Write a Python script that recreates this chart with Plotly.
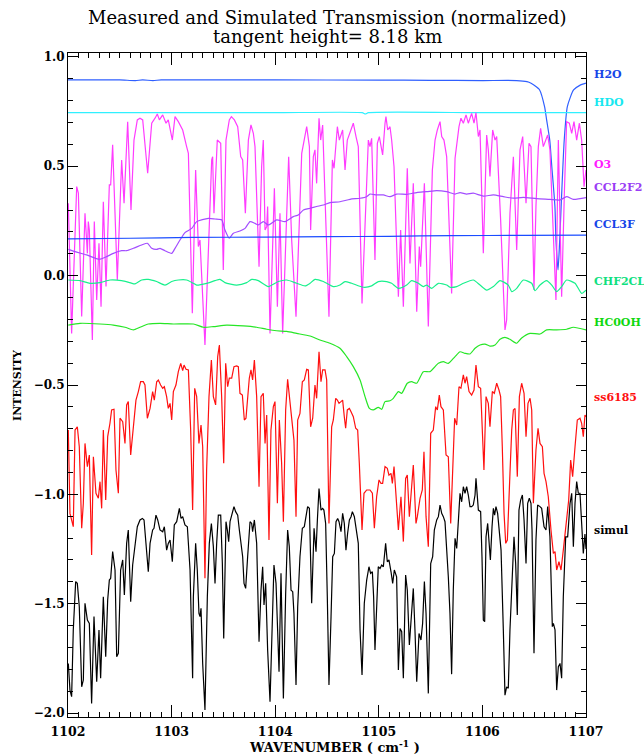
import plotly.graph_objects as go

# ---------------- data (wavenumber cm-1, normalized intensity) ----------------
h2o = [(1102.00, 0.895), (1102.50, 0.895), (1102.65, 0.892), (1102.72, 0.895), (1102.82, 0.892),
       (1102.90, 0.895), (1103.50, 0.895), (1104.00, 0.895), (1105.00, 0.894), (1105.50, 0.893),
       (1106.00, 0.892), (1106.33, 0.892), (1106.43, 0.887), (1106.47, 0.880), (1106.52, 0.864),
       (1106.55, 0.851), (1106.60, 0.773), (1106.62, 0.712), (1106.65, 0.620), (1106.67, 0.498),
       (1106.70, 0.316), (1106.71, 0.163), (1106.73, 0.026), (1106.745, 0.150), (1106.76, 0.316),
       (1106.79, 0.620), (1106.82, 0.773), (1106.88, 0.849), (1106.94, 0.870), (1107.00, 0.880)]

hdo = [(1102.00, 0.745), (1103.00, 0.745), (1104.00, 0.745), (1104.84, 0.745), (1104.87, 0.739),
       (1104.90, 0.745), (1106.00, 0.745), (1107.00, 0.745)]

o3 = [(1102.003, 0.331), (1102.035, -0.264), (1102.084, 0.407), (1102.100, 0.377), (1102.132, -0.187),
      (1102.164, 0.285), (1102.187, 0.102), (1102.196, 0.247), (1102.206, 0.209), (1102.235, -0.294),
      (1102.254, 0.247), (1102.277, -0.111), (1102.299, 0.148), (1102.319, -0.142), (1102.341, 0.338),
      (1102.367, -0.050), (1102.399, 0.415), (1102.412, 0.415), (1102.431, 0.598), (1102.476, -0.020),
      (1102.518, 0.529), (1102.541, 0.331), (1102.576, 0.704), (1102.608, 0.300), (1102.637, 0.620),
      (1102.669, 0.712), (1102.695, 0.720), (1102.721, 0.712), (1102.769, 0.468), (1102.808, 0.697),
      (1102.840, 0.720), (1102.862, 0.739), (1102.882, 0.712), (1102.914, 0.735), (1102.946, 0.697),
      (1102.968, 0.712), (1103.007, 0.620), (1103.033, 0.727), (1103.065, 0.704), (1103.107, 0.666),
      (1103.145, 0.590), (1103.162, 0.559), (1103.200, -0.172), (1103.232, 0.483), (1103.258, 0.133),
      (1103.274, 0.163), (1103.322, -0.317), (1103.387, 0.529), (1103.396, 0.544), (1103.409, 0.285),
      (1103.441, 0.620), (1103.474, 0.605), (1103.499, 0.026), (1103.525, 0.620), (1103.557, 0.712),
      (1103.577, 0.727), (1103.606, 0.712), (1103.638, 0.681), (1103.667, 0.544), (1103.686, 0.529),
      (1103.712, 0.285), (1103.741, 0.620), (1103.766, 0.689), (1103.789, 0.651), (1103.805, 0.590),
      (1103.844, 0.041), (1103.869, 0.498), (1103.885, 0.620), (1103.902, 0.209), (1103.918, 0.224),
      (1103.927, 0.316), (1103.950, -0.264), (1103.992, 0.399), (1104.021, -0.142), (1104.046, 0.285),
      (1104.072, -0.264), (1104.130, 0.544), (1104.159, 0.163), (1104.201, -0.188), (1104.256, 0.559),
      (1104.304, 0.681), (1104.330, 0.590), (1104.342, 0.209), (1104.368, 0.544), (1104.384, 0.575),
      (1104.400, 0.422), (1104.423, 0.720), (1104.439, 0.620), (1104.458, 0.689), (1104.468, 0.559),
      (1104.519, -0.188), (1104.552, 0.529), (1104.568, 0.491), (1104.600, 0.681), (1104.619, 0.620),
      (1104.651, 0.666), (1104.674, 0.483), (1104.696, 0.620), (1104.738, 0.681), (1104.754, 0.697),
      (1104.780, 0.636), (1104.802, 0.590), (1104.838, -0.127), (1104.899, 0.620), (1104.915, 0.590),
      (1104.931, 0.628), (1104.963, 0.072), (1104.986, 0.605), (1105.005, 0.636), (1105.037, 0.552),
      (1105.060, 0.697), (1105.069, 0.727), (1105.086, 0.666), (1105.108, 0.681), (1105.124, 0.620),
      (1105.147, 0.498), (1105.189, -0.096), (1105.211, 0.209), (1105.237, -0.142), (1105.275, 0.491),
      (1105.301, 0.056), (1105.333, 0.422), (1105.366, -0.165), (1105.391, 0.133), (1105.404, 0.041),
      (1105.440, 0.422), (1105.478, -0.233), (1105.517, 0.483), (1105.543, 0.620), (1105.565, 0.666),
      (1105.591, 0.704), (1105.607, 0.636), (1105.629, 0.620), (1105.655, 0.544), (1105.703, -0.081),
      (1105.736, 0.537), (1105.774, 0.681), (1105.793, 0.720), (1105.816, 0.697), (1105.842, 0.735),
      (1105.864, 0.697), (1105.896, 0.742), (1105.919, 0.697), (1105.938, 0.745), (1105.961, 0.636),
      (1105.977, 0.666), (1106.009, 0.102), (1106.041, 0.643), (1106.057, 0.575), (1106.073, 0.453),
      (1106.099, 0.666), (1106.122, 0.620), (1106.138, 0.636), (1106.176, 0.255), (1106.218, -0.248),
      (1106.234, -0.203), (1106.266, 0.285), (1106.299, 0.544), (1106.331, 0.117), (1106.363, 0.575),
      (1106.389, 0.636), (1106.421, 0.331), (1106.450, 0.605), (1106.469, 0.590), (1106.498, -0.066),
      (1106.517, 0.316), (1106.540, 0.590), (1106.562, 0.674), (1106.588, 0.590), (1106.630, 0.643),
      (1106.652, 0.575), (1106.710, -0.111), (1106.733, 0.620), (1106.765, -0.096), (1106.791, 0.377),
      (1106.813, 0.704), (1106.839, 0.697), (1106.862, 0.651), (1106.884, 0.704), (1106.910, 0.620),
      (1106.936, 0.697), (1106.958, 0.620), (1106.981, 0.407), (1107.000, 0.483)]

ccl2f2 = [(1102.003, 0.120), (1102.068, 0.110), (1102.180, 0.095), (1102.302, 0.075), (1102.373, 0.087),
          (1102.438, 0.102), (1102.518, 0.114), (1102.566, 0.114), (1102.631, 0.125), (1102.711, 0.140),
          (1102.766, 0.148), (1102.808, 0.125), (1102.856, 0.120), (1102.888, 0.125), (1102.936, 0.114),
          (1103.001, 0.102), (1103.033, 0.125), (1103.081, 0.163), (1103.129, 0.197), (1103.194, 0.216),
          (1103.242, 0.247), (1103.355, 0.262), (1103.419, 0.259), (1103.483, 0.255), (1103.515, 0.209),
          (1103.557, 0.171), (1103.596, 0.194), (1103.660, 0.204), (1103.709, 0.216), (1103.757, 0.247),
          (1103.805, 0.239), (1103.837, 0.232), (1103.885, 0.247), (1103.934, 0.232), (1104.014, 0.255),
          (1104.095, 0.247), (1104.175, 0.270), (1104.223, 0.277), (1104.272, 0.300), (1104.336, 0.308),
          (1104.400, 0.316), (1104.465, 0.323), (1104.529, 0.334), (1104.625, 0.338), (1104.722, 0.349),
          (1104.819, 0.354), (1104.883, 0.361), (1104.915, 0.373), (1104.979, 0.369), (1105.044, 0.369),
          (1105.108, 0.361), (1105.172, 0.373), (1105.269, 0.372), (1105.366, 0.380), (1105.462, 0.384),
          (1105.559, 0.389), (1105.655, 0.384), (1105.736, 0.373), (1105.784, 0.380), (1105.848, 0.373),
          (1105.912, 0.377), (1106.009, 0.364), (1106.106, 0.369), (1106.202, 0.361), (1106.299, 0.354),
          (1106.395, 0.358), (1106.524, 0.352), (1106.652, 0.349), (1106.749, 0.346), (1106.813, 0.361),
          (1106.878, 0.349), (1107.000, 0.357)]

ccl3f = [(1102.00, 0.168), (1102.60, 0.171), (1103.20, 0.175), (1103.90, 0.176), (1104.50, 0.178),
         (1105.10, 0.180), (1105.70, 0.183), (1106.40, 0.184), (1107.00, 0.185)]

chf2cl = [(1102.003, -0.020), (1102.116, -0.023), (1102.212, -0.035), (1102.309, -0.032), (1102.405, -0.020),
          (1102.518, -0.023), (1102.598, -0.032), (1102.647, -0.038), (1102.711, -0.020), (1102.775, -0.017),
          (1102.856, -0.027), (1102.936, -0.043), (1103.001, -0.027), (1103.065, -0.020), (1103.145, -0.020),
          (1103.210, -0.035), (1103.242, -0.043), (1103.338, -0.035), (1103.419, -0.023), (1103.467, -0.017),
          (1103.515, -0.032), (1103.628, -0.043), (1103.725, -0.032), (1103.773, -0.017), (1103.837, -0.023),
          (1103.934, -0.050), (1104.030, -0.027), (1104.111, -0.020), (1104.207, -0.035), (1104.288, -0.047),
          (1104.336, -0.035), (1104.384, -0.017), (1104.465, -0.027), (1104.497, -0.035), (1104.561, -0.050),
          (1104.625, -0.043), (1104.674, -0.027), (1104.738, -0.035), (1104.851, -0.053), (1104.931, -0.047),
          (1104.995, -0.027), (1105.076, -0.027), (1105.124, -0.035), (1105.189, -0.058), (1105.269, -0.043),
          (1105.317, -0.023), (1105.382, -0.035), (1105.430, -0.050), (1105.462, -0.043), (1105.510, -0.058),
          (1105.575, -0.035), (1105.655, -0.043), (1105.687, -0.053), (1105.752, -0.050), (1105.816, -0.035),
          (1105.912, -0.020), (1105.977, -0.043), (1106.041, -0.066), (1106.106, -0.050), (1106.170, -0.023),
          (1106.250, -0.043), (1106.283, -0.073), (1106.331, -0.058), (1106.395, -0.020), (1106.476, -0.035),
          (1106.508, -0.069), (1106.556, -0.043), (1106.620, -0.023), (1106.669, -0.043), (1106.717, -0.073),
          (1106.765, -0.050), (1106.813, -0.020), (1106.894, -0.035), (1106.958, -0.081), (1107.000, -0.066)]

hcooh = [(1102.003, -0.226), (1102.116, -0.218), (1102.309, -0.221), (1102.438, -0.226), (1102.550, -0.236),
         (1102.631, -0.248), (1102.695, -0.236), (1102.775, -0.221), (1102.888, -0.218), (1103.017, -0.221),
         (1103.210, -0.221), (1103.306, -0.236), (1103.403, -0.233), (1103.532, -0.226), (1103.692, -0.230),
         (1103.821, -0.236), (1103.918, -0.245), (1104.014, -0.252), (1104.111, -0.255), (1104.207, -0.264),
         (1104.336, -0.276), (1104.432, -0.294), (1104.529, -0.309), (1104.625, -0.332), (1104.690, -0.370),
         (1104.754, -0.416), (1104.819, -0.477), (1104.867, -0.553), (1104.909, -0.607), (1104.947, -0.614),
         (1104.995, -0.602), (1105.028, -0.611), (1105.060, -0.576), (1105.108, -0.572), (1105.140, -0.561),
         (1105.189, -0.530), (1105.221, -0.538), (1105.275, -0.492), (1105.317, -0.485), (1105.366, -0.492),
         (1105.430, -0.439), (1105.494, -0.439), (1105.575, -0.401), (1105.623, -0.393), (1105.671, -0.401),
         (1105.736, -0.370), (1105.784, -0.348), (1105.832, -0.355), (1105.880, -0.358), (1105.929, -0.332),
         (1105.977, -0.317), (1106.025, -0.313), (1106.073, -0.322), (1106.122, -0.317), (1106.170, -0.291),
         (1106.218, -0.282), (1106.266, -0.291), (1106.331, -0.309), (1106.379, -0.285), (1106.460, -0.264),
         (1106.556, -0.267), (1106.620, -0.248), (1106.717, -0.248), (1106.813, -0.245), (1106.878, -0.236),
         (1107.000, -0.248)]

ss6185 = [(1102.003, -0.706), (1102.019, -1.087), (1102.051, -1.148), (1102.068, -0.706), (1102.090, -0.691),
          (1102.109, -0.782), (1102.132, -1.155), (1102.148, -1.041), (1102.164, -0.767), (1102.187, -0.873),
          (1102.206, -0.820), (1102.228, -1.277), (1102.245, -0.828), (1102.270, -0.995), (1102.293, -1.018),
          (1102.309, -0.942), (1102.325, -1.064), (1102.341, -0.706), (1102.364, -1.026), (1102.383, -0.736),
          (1102.405, -0.675), (1102.421, -0.614), (1102.444, -0.611), (1102.463, -0.889), (1102.486, -0.995),
          (1102.502, -0.652), (1102.528, -0.668), (1102.550, -0.767), (1102.566, -0.591), (1102.582, -0.576),
          (1102.605, -0.820), (1102.631, -0.675), (1102.656, -0.569), (1102.679, -0.530), (1102.701, -0.485),
          (1102.727, -0.485), (1102.743, -0.500), (1102.766, -0.652), (1102.792, -0.607), (1102.817, -0.530),
          (1102.833, -0.569), (1102.856, -0.485), (1102.872, -0.477), (1102.894, -0.500), (1102.914, -0.515),
          (1102.930, -0.508), (1102.952, -0.553), (1102.968, -0.607), (1102.985, -0.584), (1103.001, -0.660),
          (1103.017, -0.530), (1103.042, -0.500), (1103.065, -0.439), (1103.088, -0.401), (1103.107, -0.434),
          (1103.120, -0.409), (1103.139, -0.428), (1103.162, -0.431), (1103.184, -0.706), (1103.203, -1.072),
          (1103.223, -0.515), (1103.242, -0.553), (1103.264, -0.767), (1103.284, -0.683), (1103.300, -0.782),
          (1103.322, -1.384), (1103.338, -0.889), (1103.361, -0.553), (1103.384, -0.386), (1103.403, -0.553),
          (1103.425, -0.591), (1103.445, -0.370), (1103.461, -0.317), (1103.483, -0.553), (1103.503, -0.858),
          (1103.522, -0.401), (1103.541, -0.508), (1103.557, -0.469), (1103.580, -0.469), (1103.602, -0.416),
          (1103.628, -0.413), (1103.644, -0.416), (1103.660, -0.538), (1103.683, -0.546), (1103.702, -0.660),
          (1103.718, -0.652), (1103.734, -0.569), (1103.750, -0.469), (1103.766, -0.431), (1103.782, -0.477),
          (1103.799, -0.386), (1103.821, -0.553), (1103.844, -0.965), (1103.863, -0.553), (1103.885, -0.538),
          (1103.902, -0.767), (1103.918, -0.637), (1103.940, -1.209), (1103.959, -0.706), (1103.982, -0.599),
          (1103.998, -0.576), (1104.021, -1.041), (1104.040, -0.660), (1104.062, -0.858), (1104.079, -1.125),
          (1104.101, -0.614), (1104.120, -0.474), (1104.143, -0.569), (1104.165, -0.668), (1104.181, -0.752),
          (1104.201, -1.102), (1104.217, -0.660), (1104.239, -0.630), (1104.262, -0.485), (1104.281, -0.477),
          (1104.304, -0.428), (1104.320, -0.431), (1104.342, -0.691), (1104.362, -0.652), (1104.384, -0.500),
          (1104.400, -0.561), (1104.423, -0.348), (1104.442, -0.485), (1104.458, -0.431), (1104.481, -0.431),
          (1104.497, -0.477), (1104.519, -1.133), (1104.545, -0.691), (1104.561, -0.660), (1104.584, -0.561),
          (1104.600, -0.569), (1104.616, -0.584), (1104.635, -0.576), (1104.651, -0.569), (1104.667, -0.645),
          (1104.680, -0.698), (1104.696, -0.614), (1104.716, -0.607), (1104.732, -0.622), (1104.754, -0.645),
          (1104.777, -0.698), (1104.796, -0.706), (1104.812, -0.858), (1104.838, -1.163), (1104.857, -0.995),
          (1104.883, -0.980), (1104.915, -0.980), (1104.938, -0.995), (1104.957, -1.155), (1104.979, -1.011),
          (1105.002, -0.934), (1105.021, -0.950), (1105.037, -0.950), (1105.060, -0.873), (1105.082, -0.881),
          (1105.098, -0.912), (1105.118, -0.904), (1105.131, -0.950), (1105.147, -0.873), (1105.166, -1.026),
          (1105.189, -1.163), (1105.214, -1.011), (1105.237, -1.216), (1105.259, -0.927), (1105.275, -0.912),
          (1105.295, -1.102), (1105.317, -0.965), (1105.333, -0.866), (1105.359, -1.133), (1105.372, -1.102),
          (1105.398, -1.018), (1105.420, -0.980), (1105.436, -0.805), (1105.456, -1.102), (1105.478, -1.239),
          (1105.501, -0.721), (1105.526, -0.706), (1105.549, -0.599), (1105.565, -0.614), (1105.584, -0.546),
          (1105.600, -0.599), (1105.623, -0.614), (1105.649, -0.820), (1105.671, -0.828), (1105.694, -1.133),
          (1105.713, -0.904), (1105.732, -0.652), (1105.752, -0.683), (1105.774, -0.508), (1105.793, -0.515),
          (1105.816, -0.454), (1105.832, -0.492), (1105.848, -0.462), (1105.871, -0.530), (1105.896, -0.546),
          (1105.919, -0.523), (1105.938, -0.409), (1105.961, -0.508), (1105.983, -0.515), (1105.999, -0.706),
          (1106.015, -0.889), (1106.035, -0.553), (1106.057, -0.584), (1106.073, -0.691), (1106.096, -0.530),
          (1106.115, -0.538), (1106.138, -0.492), (1106.160, -0.523), (1106.176, -0.553), (1106.192, -0.782),
          (1106.209, -1.087), (1106.225, -1.224), (1106.241, -1.209), (1106.266, -0.904), (1106.283, -0.706),
          (1106.299, -0.614), (1106.315, -0.607), (1106.337, -0.919), (1106.357, -0.553), (1106.379, -0.492),
          (1106.402, -0.538), (1106.421, -0.736), (1106.440, -0.584), (1106.460, -0.561), (1106.476, -0.614),
          (1106.492, -1.041), (1106.517, -0.797), (1106.537, -0.698), (1106.556, -0.767), (1106.579, -0.782),
          (1106.595, -0.904), (1106.614, -0.942), (1106.636, -1.011), (1106.662, -1.163), (1106.685, -1.270),
          (1106.701, -1.262), (1106.717, -1.346), (1106.739, -1.308), (1106.759, -1.346), (1106.781, -1.255),
          (1106.807, -1.133), (1106.833, -1.026), (1106.852, -0.843), (1106.871, -0.919), (1106.894, -0.782),
          (1106.916, -0.660), (1106.942, -0.652), (1106.958, -0.675), (1106.974, -0.736), (1106.990, -0.637),
          (1107.000, -0.645)]

simul = [(1102.003, -1.773), (1102.019, -1.895), (1102.035, -1.925), (1102.051, -1.620), (1102.074, -1.399),
         (1102.090, -1.407), (1102.109, -1.514), (1102.132, -1.880), (1102.148, -1.849), (1102.164, -1.498),
         (1102.187, -1.575), (1102.206, -1.590), (1102.228, -1.956), (1102.251, -1.559), (1102.277, -1.857),
         (1102.299, -1.620), (1102.315, -1.841), (1102.341, -1.468), (1102.364, -1.742), (1102.383, -1.483),
         (1102.399, -1.392), (1102.412, -1.384), (1102.431, -1.262), (1102.454, -1.346), (1102.470, -1.742),
         (1102.486, -1.727), (1102.508, -1.346), (1102.528, -1.300), (1102.544, -1.460), (1102.566, -1.224),
         (1102.582, -1.163), (1102.605, -1.491), (1102.624, -1.323), (1102.647, -1.224), (1102.669, -1.148),
         (1102.695, -1.117), (1102.718, -1.110), (1102.734, -1.117), (1102.753, -1.239), (1102.775, -1.354),
         (1102.792, -1.224), (1102.817, -1.163), (1102.830, -1.155), (1102.849, -1.095), (1102.866, -1.117),
         (1102.888, -1.163), (1102.914, -1.171), (1102.930, -1.148), (1102.952, -1.255), (1102.968, -1.224),
         (1102.985, -1.209), (1103.007, -1.308), (1103.026, -1.140), (1103.049, -1.125), (1103.075, -1.064),
         (1103.091, -1.110), (1103.107, -1.102), (1103.129, -1.140), (1103.152, -1.148), (1103.178, -1.346),
         (1103.203, -1.841), (1103.210, -1.468), (1103.232, -1.224), (1103.248, -1.346), (1103.264, -1.544),
         (1103.274, -1.559), (1103.284, -1.521), (1103.300, -1.773), (1103.322, -1.986), (1103.345, -1.468),
         (1103.364, -1.224), (1103.384, -1.133), (1103.403, -1.239), (1103.419, -1.407), (1103.435, -1.224),
         (1103.451, -1.095), (1103.474, -1.095), (1103.490, -1.316), (1103.503, -1.659), (1103.515, -1.316),
         (1103.525, -1.125), (1103.538, -1.163), (1103.551, -1.216), (1103.564, -1.125), (1103.583, -1.087),
         (1103.602, -1.056), (1103.618, -1.079), (1103.638, -1.095), (1103.654, -1.163), (1103.670, -1.239),
         (1103.686, -1.285), (1103.699, -1.407), (1103.715, -1.430), (1103.734, -1.285), (1103.757, -1.125),
         (1103.773, -1.133), (1103.782, -1.171), (1103.799, -1.117), (1103.821, -1.224), (1103.844, -1.674),
         (1103.863, -1.438), (1103.879, -1.331), (1103.892, -1.506), (1103.908, -1.407), (1103.927, -1.712),
         (1103.950, -1.948), (1103.972, -1.590), (1103.988, -1.323), (1104.008, -1.407), (1104.024, -1.620),
         (1104.037, -1.811), (1104.056, -1.361), (1104.079, -1.933), (1104.101, -1.453), (1104.120, -1.163),
         (1104.136, -1.239), (1104.153, -1.438), (1104.169, -1.445), (1104.181, -1.544), (1104.201, -1.872),
         (1104.217, -1.514), (1104.239, -1.285), (1104.262, -1.155), (1104.281, -1.148), (1104.297, -1.095),
         (1104.313, -1.056), (1104.330, -1.064), (1104.352, -1.498), (1104.375, -1.155), (1104.394, -1.262),
         (1104.407, -1.117), (1104.423, -0.973), (1104.442, -1.072), (1104.458, -1.064), (1104.470, -1.072),
         (1104.487, -1.133), (1104.503, -1.468), (1104.519, -1.872), (1104.539, -1.559), (1104.555, -1.285),
         (1104.571, -1.270), (1104.587, -1.125), (1104.603, -1.110), (1104.616, -1.125), (1104.635, -1.171),
         (1104.651, -1.087), (1104.667, -1.133), (1104.683, -1.255), (1104.699, -1.178), (1104.716, -1.117),
         (1104.732, -1.102), (1104.745, -1.079), (1104.764, -1.102), (1104.786, -1.163), (1104.802, -1.224),
         (1104.819, -1.620), (1104.838, -1.826), (1104.860, -1.498), (1104.883, -1.392), (1104.905, -1.331),
         (1104.921, -1.361), (1104.938, -1.354), (1104.950, -1.468), (1104.963, -1.712), (1104.979, -1.468),
         (1104.995, -1.331), (1105.012, -1.339), (1105.028, -1.323), (1105.044, -1.331), (1105.066, -1.224),
         (1105.082, -1.308), (1105.098, -1.300), (1105.118, -1.354), (1105.134, -1.407), (1105.150, -1.346),
         (1105.172, -1.377), (1105.189, -1.803), (1105.205, -1.613), (1105.221, -1.628), (1105.237, -1.841),
         (1105.259, -1.369), (1105.275, -1.438), (1105.295, -1.689), (1105.317, -1.529), (1105.333, -1.430),
         (1105.349, -1.620), (1105.366, -1.857), (1105.388, -1.636), (1105.407, -1.666), (1105.423, -1.590),
         (1105.440, -1.399), (1105.456, -1.544), (1105.478, -1.910), (1105.501, -1.316), (1105.520, -1.285),
         (1105.536, -1.163), (1105.559, -1.117), (1105.575, -1.102), (1105.591, -1.049), (1105.607, -1.087),
         (1105.623, -1.102), (1105.639, -1.125), (1105.655, -1.239), (1105.671, -1.377), (1105.687, -1.544),
         (1105.703, -1.822), (1105.719, -1.438), (1105.736, -1.201), (1105.752, -1.247), (1105.768, -1.102),
         (1105.784, -0.995), (1105.800, -1.034), (1105.816, -0.965), (1105.832, -0.995), (1105.848, -0.965),
         (1105.864, -1.003), (1105.880, -1.056), (1105.896, -1.056), (1105.912, -1.049), (1105.929, -1.003),
         (1105.938, -0.927), (1105.961, -1.072), (1105.983, -1.079), (1105.996, -1.285), (1106.009, -1.575),
         (1106.022, -1.582), (1106.035, -1.194), (1106.051, -1.133), (1106.067, -1.255), (1106.077, -1.300),
         (1106.093, -1.148), (1106.106, -1.064), (1106.118, -1.095), (1106.131, -1.056), (1106.147, -1.087),
         (1106.163, -1.163), (1106.180, -1.255), (1106.202, -1.620), (1106.218, -1.918), (1106.234, -1.880),
         (1106.250, -1.887), (1106.266, -1.620), (1106.289, -1.316), (1106.305, -1.194), (1106.321, -1.316),
         (1106.337, -1.552), (1106.353, -1.072), (1106.369, -1.026), (1106.386, -1.003), (1106.402, -1.117),
         (1106.421, -1.316), (1106.437, -1.041), (1106.453, -1.018), (1106.469, -1.041), (1106.479, -1.163),
         (1106.498, -1.727), (1106.517, -1.209), (1106.533, -1.049), (1106.556, -1.056), (1106.572, -1.064),
         (1106.595, -1.148), (1106.614, -1.163), (1106.630, -1.056), (1106.652, -1.194), (1106.675, -1.605),
         (1106.685, -1.590), (1106.701, -1.620), (1106.717, -1.895), (1106.733, -1.788), (1106.749, -1.773),
         (1106.765, -1.841), (1106.781, -1.468), (1106.804, -1.194), (1106.823, -1.194), (1106.846, -1.041),
         (1106.862, -0.995), (1106.878, -1.239), (1106.894, -1.041), (1106.910, -0.942), (1106.926, -0.995),
         (1106.942, -0.995), (1106.958, -1.117), (1106.974, -1.270), (1106.990, -1.181), (1107.000, -1.250)]

# ---------------- styling ----------------
# name, data, label text, line colour, label colour, smooth curve?
series = [
    ("H2O", h2o, "H2O", "#2f5fff", "#1745e8", True),
    ("HDO", hdo, "HDO", "#30f0ff", "#18e8f0", True),
    ("O3", o3, "O3", "#ff3cff", "#ff1aff", False),
    ("CCL2F2", ccl2f2, "CCL2F2", "#a24dff", "#9a3cf5", True),
    ("CCL3F", ccl3f, "CCL3F", "#1b4dff", "#1745e8", True),
    ("CHF2CL", chf2cl, "CHF2CL", "#18f08c", "#10e080", True),
    ("HCOOH", hcooh, "HC0OH", "#26e626", "#10d810", True),
    ("ss6185", ss6185, "ss6185", "#ff1010", "#ff1010", False),
    ("simul", simul, "simul", "#000000", "#000000", False),
]
# vertical placement of the right-hand labels (in intensity units)
label_pos = {"H2O": 0.922, "HDO": 0.790, "O3": 0.506, "CCL2F2": 0.401, "CCL3F": 0.232,
             "CHF2CL": -0.029, "HCOOH": -0.212, "ss6185": -0.555, "simul": -1.163}

serif = "DejaVu Serif"

fig = go.Figure()
for name, data, lab, col, lcol, smooth in series:
    xs = [p[0] for p in data]
    ys = [p[1] for p in data]
    line = dict(color=col, width=1.2)
    if smooth:
        line.update(shape="spline", smoothing=0.6)
    fig.add_trace(go.Scatter(x=xs, y=ys, mode="lines", name=name, showlegend=False,
                             hoverinfo="skip", line=line))

annotations = []
for name, data, lab, col, lcol, smooth in series:
    annotations.append(dict(x=1.0116, xref="paper", y=label_pos[name], yref="y",
                            xanchor="left", yanchor="middle", text="<b>" + lab + "</b>",
                            showarrow=False, font=dict(family=serif, size=11, color=lcol)))
annotations += [
    dict(x=0.5, xref="paper", y=1.0542, yref="paper", xanchor="center", yanchor="middle",
         text="Measured and Simulated Transmission (normalized)", showarrow=False,
         font=dict(family=serif, size=18, color="black")),
    dict(x=0.5, xref="paper", y=1.0248, yref="paper", xanchor="center", yanchor="middle",
         text="tangent height= 8.18 km", showarrow=False,
         font=dict(family=serif, size=18, color="black")),
    dict(x=0.515, xref="paper", y=-0.0437, yref="paper", xanchor="center", yanchor="middle",
         text="<b>WAVENUMBER ( cm<sup>-1</sup> )</b>", showarrow=False,
         font=dict(family=serif, size=13, color="black")),
    dict(x=-0.0985, xref="paper", y=0.5, yref="paper", xanchor="center", yanchor="middle",
         text="<b>INTENSITY</b>", textangle=-90, showarrow=False,
         font=dict(family=serif, size=11, color="black")),
]

fig.update_layout(
    width=644, height=756,
    margin=dict(l=68, r=58, t=53, b=39),
    paper_bgcolor="white", plot_bgcolor="white",
    annotations=annotations,
    xaxis=dict(
        range=[1102, 1107], dtick=1, tick0=1102, tickformat="d",
        ticks="inside", ticklen=12, tickwidth=1, tickcolor="black",
        showline=True, linecolor="black", linewidth=1, mirror="ticks",
        showgrid=False, zeroline=False, ticklabelstandoff=3,
        minor=dict(dtick=0.1, ticks="inside", ticklen=5, tickcolor="black", showgrid=False),
        tickfont=dict(family=serif, size=12.5, color="black", weight="bold"),
    ),
    yaxis=dict(
        range=[-2.018, 1.018], dtick=0.5, tick0=0, tickformat=".1f",
        ticks="inside", ticklen=10, tickwidth=1, tickcolor="black",
        showline=True, linecolor="black", linewidth=1, mirror="ticks",
        showgrid=False, zeroline=False,
        minor=dict(dtick=0.1, ticks="inside", ticklen=5, tickcolor="black", showgrid=False),
        tickfont=dict(family=serif, size=12, color="black", weight="bold"),
    ),
)

# remove the browser's default 8px page margin so the figure fills the window exactly
fig.write_html("out.html",
               config={"displayModeBar": False, "staticPlot": True},
               post_script="document.body.style.margin='0px';document.body.style.overflow='hidden';")
